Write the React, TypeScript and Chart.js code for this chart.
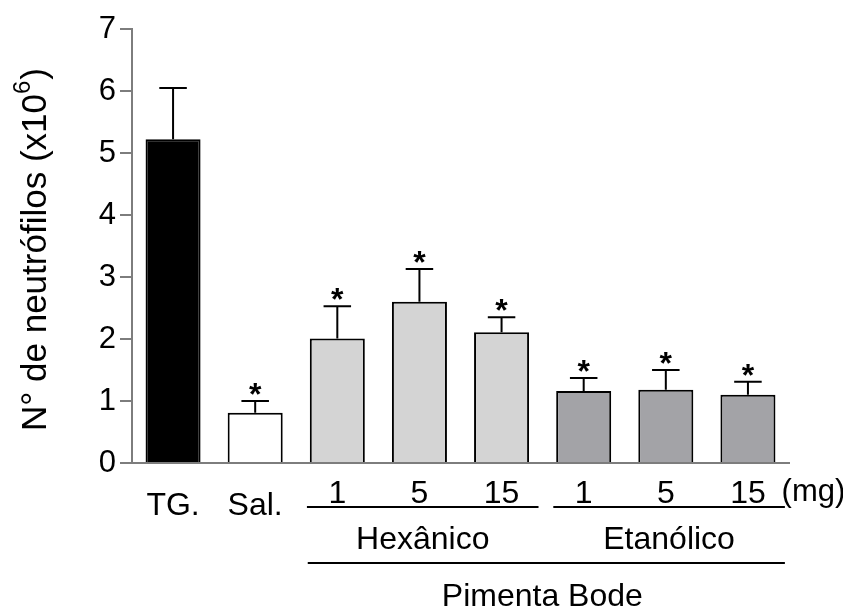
import React, { useEffect, useRef } from 'react';
import { Chart, registerables } from 'chart.js';

Chart.register(...registerables);

// Neutrophil counts per treatment group (mean and upper SEM)
const categories = ['TG.', 'Sal.', '1', '5', '15', '1', '5', '15'];
const means = [5.22, 0.81, 2.01, 2.6, 2.11, 1.16, 1.18, 1.1];
const sems = [0.83, 0.19, 0.52, 0.53, 0.24, 0.21, 0.32, 0.21];
const significant = [false, true, true, true, true, true, true, true];
const barColors = ['#000000', '#ffffff', '#d4d4d4', '#d4d4d4', '#d4d4d4', '#a3a3a7', '#a3a3a7', '#a3a3a7'];

const yMin = 0;
const yMax = 7;
const yStep = 1;

const extractGroups = [
  { label: 'Hexânico', first: 2, last: 4 },
  { label: 'Etanólico', first: 5, last: 7 },
];
const plantLabel = 'Pimenta Bode';
const doseUnit = '(mg)';
const yTitleMain = 'N° de neutrófilos (x10';
const yTitleExp = '6';
const yTitleEnd = ')';

const FONT = '"Liberation Sans", Arial, Helvetica, sans-serif';
const AXIS_GRAY = '#7d7d7d';

const annotations = {
  id: 'annotations',
  afterDatasetsDraw(chart: any) {
    const { ctx, scales } = chart;
    const y = scales.y;
    const meta = chart.getDatasetMeta(0);
    ctx.save();
    ctx.strokeStyle = '#000';
    ctx.fillStyle = '#000';
    ctx.lineWidth = 2;
    meta.data.forEach((bar: any, i: number) => {
      const top = y.getPixelForValue(means[i]);
      const tip = y.getPixelForValue(means[i] + sems[i]);
      const half = bar.width * 0.25;
      ctx.beginPath();
      ctx.moveTo(bar.x, top);
      ctx.lineTo(bar.x, tip);
      ctx.moveTo(bar.x - half, tip);
      ctx.lineTo(bar.x + half, tip);
      ctx.stroke();
      if (significant[i]) {
        ctx.font = `bold 32px ${FONT}`;
        ctx.textAlign = 'center';
        ctx.textBaseline = 'alphabetic';
        ctx.fillText('*', bar.x, tip + 4);
      }
    });
    ctx.restore();
  },
  afterDraw(chart: any) {
    const { ctx, scales, chartArea } = chart;
    const x = scales.x;
    const px = (i: number) => x.getPixelForValue(i);
    const step = px(1) - px(0);
    const base = chartArea.bottom;

    ctx.save();
    ctx.strokeStyle = '#000';
    ctx.fillStyle = '#000';
    ctx.lineWidth = 2;
    ctx.textBaseline = 'alphabetic';

    // dose unit after the last dose label
    ctx.font = `31px ${FONT}`;
    ctx.textAlign = 'left';
    ctx.fillText(doseUnit, px(categories.length - 1) + 0.41 * step, base + 38);

    // extract brackets
    ctx.font = `32px ${FONT}`;
    ctx.textAlign = 'center';
    extractGroups.forEach((g) => {
      const l = px(g.first) - 0.37 * step;
      const r = px(g.last) + 0.45 * step;
      ctx.beginPath();
      ctx.moveTo(l, base + 44);
      ctx.lineTo(r, base + 44);
      ctx.stroke();
      ctx.fillText(g.label, (l + r) / 2, base + 86);
    });

    // plant bracket
    const pl = px(extractGroups[0].first) - 0.36 * step;
    const pr = px(extractGroups[extractGroups.length - 1].last) + 0.45 * step;
    ctx.beginPath();
    ctx.moveTo(pl, base + 100);
    ctx.lineTo(pr, base + 100);
    ctx.stroke();
    ctx.fillText(plantLabel, (pl + pr) / 2 - 4, base + 143);

    // rotated y-axis title with superscript exponent
    const cy = (chartArea.top + chartArea.bottom) / 2 + 4;
    ctx.translate(46, cy);
    ctx.rotate(-Math.PI / 2);
    ctx.textAlign = 'left';
    const mainFont = `35px ${FONT}`;
    const supFont = `24px ${FONT}`;
    ctx.font = mainFont;
    const w1 = ctx.measureText(yTitleMain).width;
    const w3 = ctx.measureText(yTitleEnd).width;
    ctx.font = supFont;
    const w2 = ctx.measureText(yTitleExp).width;
    const start = -(w1 + w2 + w3) / 2;
    ctx.font = mainFont;
    ctx.fillText(yTitleMain, start, 0);
    ctx.font = supFont;
    ctx.fillText(yTitleExp, start + w1, -16);
    ctx.font = mainFont;
    ctx.fillText(yTitleEnd, start + w1 + w2 + 1, 0);
    ctx.restore();
  },
};

export default function App() {
  const canvasRef = useRef<HTMLCanvasElement | null>(null);

  useEffect(() => {
    if (!canvasRef.current) return;
    Chart.defaults.font.family = FONT;
    const chart = new Chart(canvasRef.current, {
      type: 'bar',
      data: {
        labels: categories,
        datasets: [
          {
            data: means,
            backgroundColor: barColors,
            borderColor: '#000',
            borderWidth: 2,
            barPercentage: 0.67,
            categoryPercentage: 1,
          },
        ],
      },
      options: {
        responsive: false,
        animation: false,
        events: [],
        layout: { padding: { left: 0, top: 29, right: 54, bottom: 0 } },
        plugins: {
          legend: { display: false },
          tooltip: { enabled: false },
          title: { display: false },
        },
        scales: {
          x: {
            offset: true,
            grid: { display: false },
            border: { color: AXIS_GRAY, width: 2 },
            ticks: {
              color: '#000',
              padding: 4,
              maxRotation: 0,
              autoSkip: false,
              font: (c: any) => ({ size: 32, lineHeight: c.index < 2 ? 1.95 : 1.2 }),
            },
            afterFit: (scale: any) => {
              scale.height = 146;
            },
          },
          y: {
            min: yMin,
            max: yMax,
            grid: {
              drawOnChartArea: false,
              drawTicks: true,
              tickLength: 12,
              color: AXIS_GRAY,
              lineWidth: 2,
            },
            border: { color: AXIS_GRAY, width: 2 },
            ticks: {
              stepSize: yStep,
              color: '#000',
              padding: 4,
              font: { size: 31 },
            },
            afterFit: (scale: any) => {
              scale.width = 132;
            },
          },
        },
      },
      plugins: [annotations],
    });
    return () => chart.destroy();
  }, []);

  return (
    <div style={{ position: 'fixed', left: 0, top: 0, width: 843, height: 609, background: '#fff' }}>
      <canvas ref={canvasRef} width={843} height={609} />
    </div>
  );
}
